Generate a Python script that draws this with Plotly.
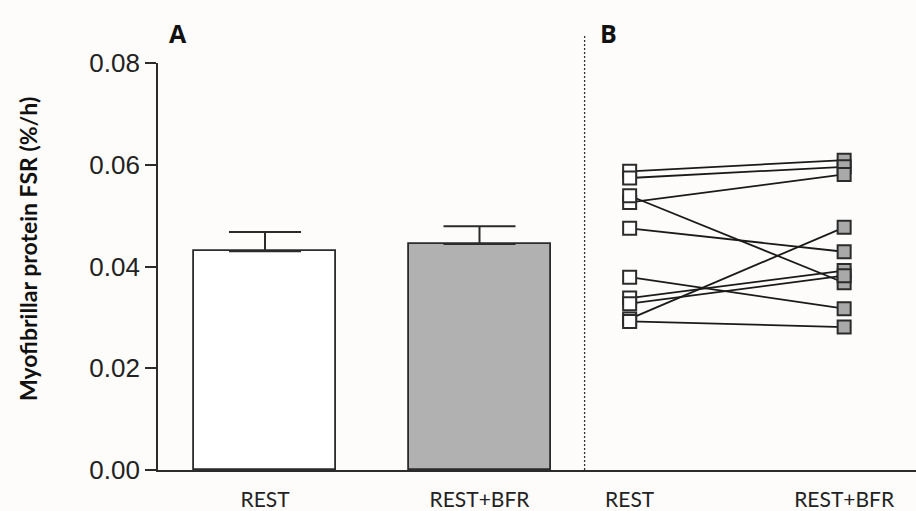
import plotly.graph_objects as go

# ---- data ----
bar_labels = ["REST", "REST+BFR"]
bar_means = [0.0430, 0.0444]
bar_sem = [0.0038, 0.0035]

rest_vals = [0.0587, 0.0574, 0.0526, 0.0539, 0.0475, 0.0379, 0.0338, 0.0327, 0.0297, 0.0292]
bfr_vals = [0.0609, 0.0596, 0.0581, 0.0368, 0.0429, 0.0317, 0.0392, 0.0382, 0.0477, 0.0281]

tick_labels = ["REST", "REST+BFR", "REST", "REST+BFR"]
y_ticks = [0.00, 0.02, 0.04, 0.06, 0.08]

# ---- layout positions (category slots) ----
bar_x = [0, 1]
pair_x = [1.7, 2.7]
divider_x = 1.49

W, H = 916, 511
ml, mr, mt, mb = 158, 0, 63, 39

fig = go.Figure()

fig.add_trace(go.Bar(
    x=bar_x, y=bar_means, width=0.662,
    marker=dict(color=["#ffffff", "#b1b1b1"], line=dict(color="#2b2b2b", width=1.8)),
    error_y=dict(type="data", symmetric=False, array=bar_sem, arrayminus=[0, 0],
                 color="#2b2b2b", thickness=2, width=36),
    showlegend=False, hoverinfo="skip",
))

for r, b in zip(rest_vals, bfr_vals):
    fig.add_trace(go.Scatter(
        x=pair_x, y=[r, b], mode="lines+markers",
        line=dict(color="#1a1a1a", width=1.8),
        marker=dict(symbol="square", size=13, color=["#ffffff", "#a9a9a9"],
                    line=dict(color="#2b2b2b", width=2)),
        showlegend=False, hoverinfo="skip",
    ))

fig.add_shape(type="line", xref="x", yref="paper", x0=divider_x, x1=divider_x,
              y0=0, y1=(H - mb - 35) / (H - mb - mt),
              line=dict(color="#333333", width=1.3, dash="2px,2px"))

plot_w = W - ml - mr
plot_h = H - mt - mb
fig.add_annotation(xref="paper", yref="paper", x=(178 - ml) / plot_w, y=(H - mb - 33) / plot_h,
                   xanchor="center", yanchor="middle",
                   text="<b>A</b>", showarrow=False, font=dict(family="Open Sans", size=25, color="#111"))
fig.add_annotation(xref="paper", yref="paper", x=(608 - ml) / plot_w, y=(H - mb - 33) / plot_h,
                   xanchor="center", yanchor="middle",
                   text="<b>B</b>", showarrow=False, font=dict(family="Open Sans", size=25, color="#111"))
fig.add_annotation(xref="paper", yref="paper", x=(28 - ml) / plot_w, y=(H - mb - 250) / plot_h,
                   xanchor="center", yanchor="middle",
                   text="<b>Myofibrillar protein FSR (%/h)</b>", textangle=-90, showarrow=False,
                   font=dict(family="Lato", size=23, color="#111"))

fig.update_layout(
    width=W, height=H,
    margin=dict(l=ml, r=mr, t=mt, b=mb, pad=0),
    paper_bgcolor="#fdfcfa", plot_bgcolor="#fdfcfa",
    bargap=0,
    xaxis=dict(range=[(158 - 265) / 214.5, (916 - 265) / 214.5],
               tickvals=bar_x + pair_x, ticktext=tick_labels,
               showline=True, linecolor="#2b2b2b", linewidth=1.8,
               ticks="", showgrid=False, zeroline=False, ticklabelstandoff=10,
               tickfont=dict(family="Lato", size=21, color="#222")),
    yaxis=dict(range=[0, 0.08], tickvals=y_ticks, tickformat=".2f",
               showline=True, linecolor="#2b2b2b", linewidth=1.8,
               ticks="outside", ticklen=11, tickwidth=1.8, tickcolor="#2b2b2b",
               showgrid=False, zeroline=False,
               tickfont=dict(family="Liberation Sans", size=26, color="#222")),
)

fig.write_html("out.html")
